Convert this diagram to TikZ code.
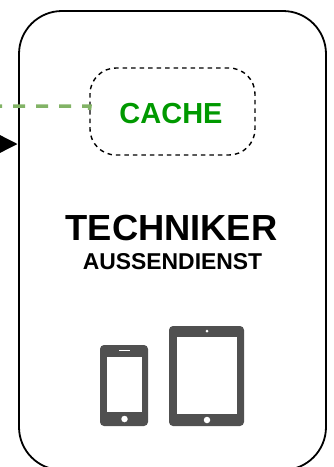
\documentclass[tikz,border=0pt]{standalone}
\usepackage{fontspec}
\setmainfont{Liberation Sans}
\usetikzlibrary{arrows.meta}
\definecolor{devgray}{HTML}{505050}
\definecolor{cachegreen}{HTML}{009900}
\definecolor{linkgreen}{HTML}{82B366}
\tikzset{
  outerbox/.style={draw=black,line width=1.8pt,rounded corners=43pt,minimum width=307pt,minimum height=459pt,inner sep=0pt},
  cachebox/.style={draw=black,line width=1.4pt,dash pattern=on 4.5pt off 4pt,rounded corners=26pt,minimum width=165pt,minimum height=87pt,inner sep=0pt},
  label/.style={inner sep=0pt,font=\bfseries},
  device/.style={fill=devgray,rounded corners=4pt,inner sep=0pt},
  screen/.style={fill=white,inner sep=0pt},
  hole/.style={circle,fill=white,inner sep=0pt},
  link/.style={draw=linkgreen,line width=3.5pt,dash pattern=on 12pt off 11pt,dash phase=10pt},
  arrowlink/.style={draw=black,line width=1.5pt,-{Triangle[length=20pt,width=20pt]}}
}
\begin{document}
\begin{tikzpicture}[x=1pt,y=-1pt]
\useasboundingbox (0,0) rectangle (333,467);
\clip (0,0) rectangle (333,467);
\node[outerbox] (outer) at (172.5,240.5) {};
\node[cachebox] (cache) at (172.5,111.5) {};
\node[label,text=cachegreen,font=\bfseries\fontsize{29}{29}\selectfont] (cachelabel) at (171,113.5) {CACHE};
\node[label,font=\bfseries\fontsize{36.3}{36.3}\selectfont] (tech) at (171.5,227.5) {TECHNIKER};
\node[label,font=\bfseries\fontsize{22.9}{22.9}\selectfont] (aussen) at (172.5,261.5) {AUSSENDIENST};
% link
\coordinate (linkstart) at (0,106);
\coordinate (linkbend) at (90,106);
\coordinate (arrowstart) at (-30,144);
\coordinate (arrowtip) at (17.5,144);
\draw[link] (linkstart) -- (linkbend) -- (cache.west);
\draw[arrowlink] (arrowstart) -- (arrowtip);
% phone
\node[device,minimum width=48pt,minimum height=81pt] (phone) at (124,385.5) {};
\node[screen,minimum width=35pt,minimum height=55pt] (phonescreen) at (124.5,384.5) {};
\node[screen,minimum width=11pt,minimum height=1.6pt] (speaker) at (124.5,350.5) {};
\node[hole,minimum size=6.5pt] (phonebtn) at (124.5,419) {};
% tablet
\node[device,minimum width=75pt,minimum height=100pt] (tablet) at (206.5,376) {};
\node[screen,minimum width=60pt,minimum height=77pt] (tabletscreen) at (207,375.5) {};
\node[hole,minimum size=3pt] (camera) at (207,331) {};
\node[hole,minimum size=6.5pt] (tabletbtn) at (207,420) {};
\end{tikzpicture}
\end{document}
